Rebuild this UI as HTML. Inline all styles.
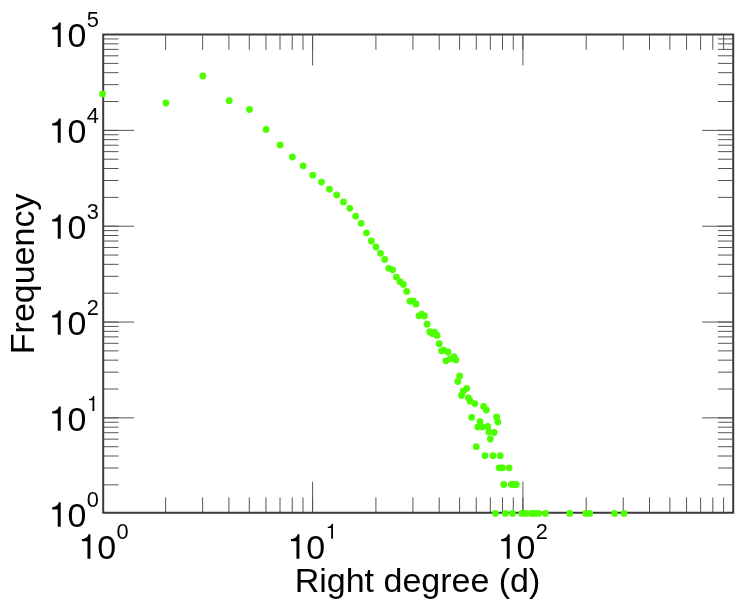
<!DOCTYPE html>
<html><head><meta charset="utf-8"><style>
html,body{margin:0;padding:0;background:#fff;width:738px;height:600px;overflow:hidden}
svg{display:block;will-change:transform}
text{font-family:"Liberation Sans",sans-serif;fill:#000}
</style></head><body>
<svg width="738" height="600" viewBox="0 0 738 600">
<rect x="103.2" y="34.5" width="630.00" height="478.25" fill="none" stroke="#3a3a3a" stroke-width="2"/>
<path d="M165.61 512.75v-15.3M165.61 34.5v15.3M202.64 512.75v-15.3M202.64 34.5v15.3M228.91 512.75v-15.3M228.91 34.5v15.3M249.29 512.75v-15.3M249.29 34.5v15.3M265.95 512.75v-15.3M265.95 34.5v15.3M280.02 512.75v-15.3M280.02 34.5v15.3M292.22 512.75v-15.3M292.22 34.5v15.3M302.98 512.75v-15.3M302.98 34.5v15.3M312.60 512.75v-15.3M312.60 34.5v15.3M375.91 512.75v-15.3M375.91 34.5v15.3M412.94 512.75v-15.3M412.94 34.5v15.3M439.21 512.75v-15.3M439.21 34.5v15.3M459.59 512.75v-15.3M459.59 34.5v15.3M476.25 512.75v-15.3M476.25 34.5v15.3M490.32 512.75v-15.3M490.32 34.5v15.3M502.52 512.75v-15.3M502.52 34.5v15.3M513.28 512.75v-15.3M513.28 34.5v15.3M522.90 512.75v-15.3M522.90 34.5v15.3M586.21 512.75v-15.3M586.21 34.5v15.3M623.24 512.75v-15.3M623.24 34.5v15.3M649.51 512.75v-15.3M649.51 34.5v15.3M669.89 512.75v-15.3M669.89 34.5v15.3M686.55 512.75v-15.3M686.55 34.5v15.3M700.62 512.75v-15.3M700.62 34.5v15.3M712.82 512.75v-15.3M712.82 34.5v15.3M723.58 512.75v-15.3M723.58 34.5v15.3M103.2 484.85h15.3M733.2 484.85h-15.3M103.2 467.98h15.3M733.2 467.98h-15.3M103.2 456.00h15.3M733.2 456.00h-15.3M103.2 446.72h15.3M733.2 446.72h-15.3M103.2 439.13h15.3M733.2 439.13h-15.3M103.2 432.71h15.3M733.2 432.71h-15.3M103.2 427.16h15.3M733.2 427.16h-15.3M103.2 422.25h15.3M733.2 422.25h-15.3M103.2 417.87h15.3M733.2 417.87h-15.3M103.2 389.02h15.3M733.2 389.02h-15.3M103.2 372.15h15.3M733.2 372.15h-15.3M103.2 360.17h15.3M733.2 360.17h-15.3M103.2 350.89h15.3M733.2 350.89h-15.3M103.2 343.30h15.3M733.2 343.30h-15.3M103.2 336.88h15.3M733.2 336.88h-15.3M103.2 331.33h15.3M733.2 331.33h-15.3M103.2 326.42h15.3M733.2 326.42h-15.3M103.2 322.04h15.3M733.2 322.04h-15.3M103.2 293.19h15.3M733.2 293.19h-15.3M103.2 276.32h15.3M733.2 276.32h-15.3M103.2 264.34h15.3M733.2 264.34h-15.3M103.2 255.06h15.3M733.2 255.06h-15.3M103.2 247.47h15.3M733.2 247.47h-15.3M103.2 241.05h15.3M733.2 241.05h-15.3M103.2 235.50h15.3M733.2 235.50h-15.3M103.2 230.59h15.3M733.2 230.59h-15.3M103.2 226.21h15.3M733.2 226.21h-15.3M103.2 197.36h15.3M733.2 197.36h-15.3M103.2 180.49h15.3M733.2 180.49h-15.3M103.2 168.51h15.3M733.2 168.51h-15.3M103.2 159.23h15.3M733.2 159.23h-15.3M103.2 151.64h15.3M733.2 151.64h-15.3M103.2 145.22h15.3M733.2 145.22h-15.3M103.2 139.67h15.3M733.2 139.67h-15.3M103.2 134.76h15.3M733.2 134.76h-15.3M103.2 130.38h15.3M733.2 130.38h-15.3M103.2 101.53h15.3M733.2 101.53h-15.3M103.2 84.66h15.3M733.2 84.66h-15.3M103.2 72.68h15.3M733.2 72.68h-15.3M103.2 63.40h15.3M733.2 63.40h-15.3M103.2 55.81h15.3M733.2 55.81h-15.3M103.2 49.39h15.3M733.2 49.39h-15.3M103.2 43.84h15.3M733.2 43.84h-15.3M103.2 38.93h15.3M733.2 38.93h-15.3" stroke="#555" stroke-width="1" fill="none"/>
<path d="M312.60 512.75v-31.0M312.60 34.5v31.0M522.90 512.75v-31.0M522.90 34.5v31.0M103.2 417.87h31.0M733.2 417.87h-31.0M103.2 322.04h31.0M733.2 322.04h-31.0M103.2 226.21h31.0M733.2 226.21h-31.0M103.2 130.38h31.0M733.2 130.38h-31.0" stroke="#555" stroke-width="1" fill="none"/>
<g fill="#4dff00"><circle cx="102.60" cy="94.00" r="3.4"/><circle cx="165.86" cy="103.00" r="3.4"/><circle cx="202.87" cy="75.90" r="3.4"/><circle cx="229.12" cy="100.70" r="3.4"/><circle cx="249.49" cy="109.50" r="3.4"/><circle cx="266.13" cy="129.50" r="3.4"/><circle cx="280.20" cy="145.00" r="3.4"/><circle cx="292.38" cy="157.00" r="3.4"/><circle cx="303.13" cy="165.80" r="3.4"/><circle cx="312.75" cy="175.20" r="3.4"/><circle cx="321.45" cy="182.10" r="3.4"/><circle cx="329.39" cy="189.20" r="3.4"/><circle cx="336.70" cy="195.00" r="3.4"/><circle cx="343.46" cy="201.90" r="3.4"/><circle cx="349.76" cy="208.30" r="3.4"/><circle cx="355.65" cy="216.20" r="3.4"/><circle cx="361.18" cy="223.30" r="3.4"/><circle cx="366.40" cy="232.80" r="3.4"/><circle cx="371.33" cy="241.00" r="3.4"/><circle cx="376.01" cy="247.00" r="3.4"/><circle cx="380.46" cy="253.30" r="3.4"/><circle cx="384.71" cy="259.50" r="3.4"/><circle cx="388.77" cy="268.30" r="3.4"/><circle cx="392.65" cy="269.80" r="3.4"/><circle cx="396.38" cy="277.10" r="3.4"/><circle cx="399.96" cy="281.70" r="3.4"/><circle cx="403.40" cy="284.40" r="3.4"/><circle cx="406.72" cy="291.40" r="3.4"/><circle cx="409.92" cy="301.20" r="3.4"/><circle cx="413.02" cy="301.00" r="3.4"/><circle cx="416.01" cy="304.00" r="3.4"/><circle cx="418.91" cy="315.80" r="3.4"/><circle cx="421.72" cy="314.20" r="3.4"/><circle cx="424.44" cy="316.00" r="3.4"/><circle cx="427.09" cy="324.20" r="3.4"/><circle cx="429.66" cy="331.70" r="3.4"/><circle cx="432.16" cy="333.50" r="3.4"/><circle cx="434.59" cy="332.10" r="3.4"/><circle cx="436.96" cy="335.40" r="3.4"/><circle cx="439.27" cy="343.70" r="3.4"/><circle cx="441.53" cy="350.80" r="3.4"/><circle cx="443.73" cy="350.20" r="3.4"/><circle cx="445.87" cy="360.80" r="3.4"/><circle cx="447.97" cy="352.00" r="3.4"/><circle cx="450.02" cy="358.80" r="3.4"/><circle cx="453.99" cy="356.60" r="3.4"/><circle cx="455.91" cy="360.00" r="3.4"/><circle cx="457.79" cy="381.50" r="3.4"/><circle cx="459.64" cy="376.00" r="3.4"/><circle cx="461.45" cy="395.50" r="3.4"/><circle cx="463.22" cy="391.00" r="3.4"/><circle cx="466.66" cy="388.50" r="3.4"/><circle cx="468.34" cy="397.80" r="3.4"/><circle cx="469.98" cy="401.00" r="3.4"/><circle cx="471.60" cy="417.30" r="3.4"/><circle cx="474.74" cy="403.60" r="3.4"/><circle cx="476.28" cy="446.70" r="3.4"/><circle cx="477.79" cy="427.00" r="3.4"/><circle cx="480.00" cy="421.70" r="3.4"/><circle cx="482.17" cy="427.00" r="3.4"/><circle cx="483.58" cy="406.40" r="3.4"/><circle cx="484.98" cy="455.70" r="3.4"/><circle cx="486.35" cy="410.00" r="3.4"/><circle cx="487.70" cy="426.50" r="3.4"/><circle cx="489.03" cy="432.00" r="3.4"/><circle cx="490.35" cy="439.00" r="3.4"/><circle cx="492.92" cy="455.70" r="3.4"/><circle cx="494.18" cy="432.50" r="3.4"/><circle cx="495.42" cy="513.45" r="3.4"/><circle cx="496.64" cy="417.00" r="3.4"/><circle cx="497.85" cy="422.00" r="3.4"/><circle cx="499.05" cy="467.80" r="3.4"/><circle cx="500.22" cy="455.70" r="3.4"/><circle cx="501.39" cy="467.80" r="3.4"/><circle cx="502.53" cy="467.80" r="3.4"/><circle cx="503.67" cy="484.50" r="3.4"/><circle cx="505.34" cy="513.45" r="3.4"/><circle cx="509.13" cy="467.80" r="3.4"/><circle cx="511.23" cy="484.50" r="3.4"/><circle cx="512.47" cy="513.45" r="3.4"/><circle cx="513.28" cy="484.50" r="3.4"/><circle cx="515.29" cy="484.50" r="3.4"/><circle cx="516.28" cy="484.50" r="3.4"/><circle cx="521.61" cy="513.45" r="3.4"/><circle cx="525.95" cy="513.45" r="3.4"/><circle cx="531.18" cy="513.45" r="3.4"/><circle cx="534.94" cy="513.45" r="3.4"/><circle cx="538.62" cy="513.45" r="3.4"/><circle cx="545.43" cy="513.45" r="3.4"/><circle cx="569.70" cy="513.45" r="3.4"/><circle cx="585.70" cy="513.45" r="3.4"/><circle cx="589.74" cy="513.45" r="3.4"/><circle cx="614.56" cy="513.45" r="3.4"/><circle cx="624.08" cy="513.45" r="3.4"/></g>
<g fill="#000">
<path transform="translate(48.63 527.00) scale(0.01660 -0.01660)" d="M728 10L728 1484L610 1484C590 1330 470 1210 218 1194L218 1054L550 1054L550 10Z"/><text x="67.54" y="527.00" font-size="34.0">0</text><text x="86.85" y="507.10" font-size="21.8">0</text>
<path transform="translate(48.63 431.01) scale(0.01660 -0.01660)" d="M728 10L728 1484L610 1484C590 1330 470 1210 218 1194L218 1054L550 1054L550 10Z"/><text x="67.54" y="431.01" font-size="34.0">0</text><path transform="translate(86.85 411.11) scale(0.01025 -0.01025)" d="M728 10L728 1484L610 1484C590 1330 470 1210 218 1194L218 1054L550 1054L550 10Z"/>
<path transform="translate(48.63 335.02) scale(0.01660 -0.01660)" d="M728 10L728 1484L610 1484C590 1330 470 1210 218 1194L218 1054L550 1054L550 10Z"/><text x="67.54" y="335.02" font-size="34.0">0</text><text x="86.85" y="315.12" font-size="21.8">2</text>
<path transform="translate(48.63 239.03) scale(0.01660 -0.01660)" d="M728 10L728 1484L610 1484C590 1330 470 1210 218 1194L218 1054L550 1054L550 10Z"/><text x="67.54" y="239.03" font-size="34.0">0</text><text x="86.85" y="219.13" font-size="21.8">3</text>
<path transform="translate(48.63 143.04) scale(0.01660 -0.01660)" d="M728 10L728 1484L610 1484C590 1330 470 1210 218 1194L218 1054L550 1054L550 10Z"/><text x="67.54" y="143.04" font-size="34.0">0</text><text x="86.85" y="123.14" font-size="21.8">4</text>
<path transform="translate(48.63 47.05) scale(0.01660 -0.01660)" d="M728 10L728 1484L610 1484C590 1330 470 1210 218 1194L218 1054L550 1054L550 10Z"/><text x="67.54" y="47.05" font-size="34.0">0</text><text x="86.85" y="27.15" font-size="21.8">5</text>
<path transform="translate(78.33 558.80) scale(0.01660 -0.01660)" d="M728 10L728 1484L610 1484C590 1330 470 1210 218 1194L218 1054L550 1054L550 10Z"/><text x="97.24" y="558.80" font-size="34.0">0</text><text x="116.55" y="538.90" font-size="21.8">0</text>
<path transform="translate(287.33 558.80) scale(0.01660 -0.01660)" d="M728 10L728 1484L610 1484C590 1330 470 1210 218 1194L218 1054L550 1054L550 10Z"/><text x="306.24" y="558.80" font-size="34.0">0</text><path transform="translate(325.55 538.90) scale(0.01025 -0.01025)" d="M728 10L728 1484L610 1484C590 1330 470 1210 218 1194L218 1054L550 1054L550 10Z"/>
<path transform="translate(497.63 558.80) scale(0.01660 -0.01660)" d="M728 10L728 1484L610 1484C590 1330 470 1210 218 1194L218 1054L550 1054L550 10Z"/><text x="516.54" y="558.80" font-size="34.0">0</text><text x="535.85" y="538.90" font-size="21.8">2</text>
<text x="417.5" y="591.5" text-anchor="middle" font-size="34">Right degree (d)</text>
<text transform="translate(33.8,273.9) rotate(-90)" text-anchor="middle" font-size="34">Frequency</text>
</g>
</svg>
</body></html>
